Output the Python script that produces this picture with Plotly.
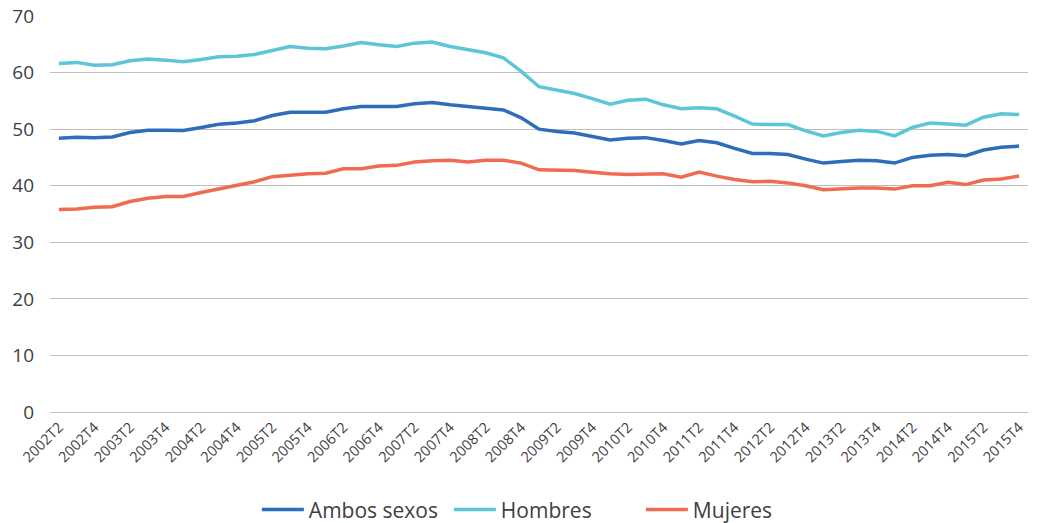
import plotly.graph_objects as go

quarters = []
for yr in range(2002, 2016):
    for q in range(1, 5):
        if yr == 2002 and q == 1:
            continue
        quarters.append(f"{yr}T{q}")

ambos = [48.4, 48.55, 48.5, 48.6, 49.4, 49.8, 49.8, 49.75, 50.3, 50.85, 51.1, 51.5, 52.4, 53.0, 53.0, 53.0,
         53.6, 54.0, 54.0, 54.0, 54.5, 54.7, 54.3, 54.0, 53.8, 53.4, 52.0, 50.0, 49.6, 49.3, 48.7, 48.1,
         48.4, 48.5, 48.0, 47.4, 48.0, 47.6, 46.6, 45.7, 45.7, 45.5, 44.7, 44.0, 44.3, 44.5, 44.4, 44.0,
         45.0, 45.4, 45.5, 45.3, 46.3, 46.8, 47.0]
hombres = [61.6, 61.8, 61.3, 61.4, 62.1, 62.4, 62.2, 61.9, 62.3, 62.8, 62.9, 63.2, 63.9, 64.6, 64.3, 64.2,
           64.7, 65.3, 64.9, 64.6, 65.2, 65.4, 64.6, 64.0, 63.5, 62.6, 60.2, 57.5, 56.9, 56.3, 55.4, 54.4,
           55.1, 55.3, 54.3, 53.6, 53.8, 53.6, 52.3, 50.9, 50.8, 50.8, 49.7, 48.8, 49.4, 49.8, 49.6, 48.8,
           50.3, 51.1, 50.9, 50.7, 52.1, 52.7, 52.6]
mujeres = [35.8, 35.9, 36.2, 36.3, 37.2, 37.8, 38.1, 38.1, 38.8, 39.4, 40.0, 40.7, 41.6, 41.9, 42.1, 42.2,
           43.0, 43.0, 43.5, 43.6, 44.2, 44.4, 44.5, 44.2, 44.5, 44.5, 44.0, 42.8, 42.7, 42.7, 42.4, 42.1,
           42.0, 42.1, 42.1, 41.5, 42.4, 41.7, 41.1, 40.7, 40.8, 40.5, 40.0, 39.3, 39.5, 39.6, 39.6, 39.4,
           40.0, 40.0, 40.6, 40.2, 41.0, 41.2, 41.7]

tick_labels = quarters[0::2]

series = [("Ambos sexos", ambos, "#2E6DB8"),
          ("Hombres", hombres, "#5CC6D6"),
          ("Mujeres", mujeres, "#F06B52")]

fig = go.Figure()
for name, vals, col in series:
    fig.add_trace(go.Scatter(x=quarters, y=vals, mode="lines", name=name,
                             line=dict(color=col, width=3.5)))

font = "Open Sans, Noto Sans, sans-serif"
fig.update_layout(
    width=1041, height=523,
    margin=dict(l=50, r=13, t=16, b=111, autoexpand=False),
    plot_bgcolor="white", paper_bgcolor="white",
    font=dict(family=font, color="#404040"),
    legend=dict(orientation="h", x=0.506, xanchor="center", y=-0.247, yanchor="middle",
                font=dict(size=21, color="#404040"), traceorder="normal",
                itemwidth=42, entrywidth=135, entrywidthmode="pixels"),
    xaxis=dict(type="category", tickmode="array", tickvals=tick_labels, ticktext=tick_labels,
               tickangle=-45, tickfont=dict(size=14.5, color="#404040"), showgrid=False,
               showline=True, linecolor="#BFBFBF", linewidth=1, ticks="", range=[-0.5, 54.5],
               automargin=False),
    yaxis=dict(range=[0, 70], dtick=10, showgrid=True, gridcolor="#BFBFBF", gridwidth=1,
               zeroline=False, tickfont=dict(size=19, color="#404040"), ticklabelstandoff=15,
               showline=False, automargin=False),
)

fig.write_html("out.html", config={"displayModeBar": False},
               post_script="document.body.style.margin='0';")
